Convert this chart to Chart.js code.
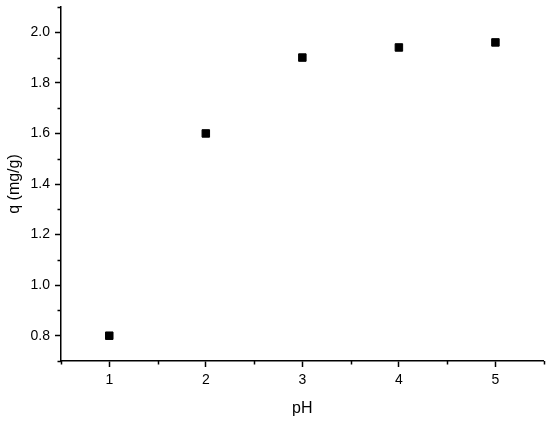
<!DOCTYPE html>
<html>
<head>
<meta charset="utf-8">
<script src="https://cdn.jsdelivr.net/npm/chart.js@4/dist/chart.umd.min.js"></script>
<style>
    html, body { margin: 0; padding: 0; background: #fff; }
    #wrap { width: 550px; height: 421px; }
</style>
</head>
<body>
<div id="wrap"><canvas id="chart-ph"></canvas></div>
<script>
// data
const phValues = [1, 2, 3, 4, 5]
const qValues = [0.80, 1.60, 1.90, 1.94, 1.96]

// axis ticks
const xMajorTicks = [1, 2, 3, 4, 5]
const xMinorTicks = [0.5, 1.5, 2.5, 3.5, 4.5, 5.5]
const yMajorTicks = [0.8, 1.0, 1.2, 1.4, 1.6, 1.8, 2.0]
const yMinorTicks = [0.7, 0.9, 1.1, 1.3, 1.5, 1.7, 1.9, 2.1]

const FONT = "'Liberation Sans', Arial, sans-serif"

// small outward ticks between the labelled ones
const minorTicks = {
    id: "minorTicks",
    afterDraw(chart) {
        const ctx = chart.ctx
        const x = chart.scales.x
        const y = chart.scales.y
        ctx.save()
        ctx.strokeStyle = "#000"
        ctx.lineWidth = 1.5
        ctx.beginPath()
        xMinorTicks.forEach((v) => {
            const px = Math.round(x.getPixelForValue(v)) + 0.5
            ctx.moveTo(px, x.top)
            ctx.lineTo(px, x.top + 3.5)
        })
        yMinorTicks.forEach((v) => {
            const py = Math.round(y.getPixelForValue(v)) + 0.5
            ctx.moveTo(y.right, py)
            ctx.lineTo(y.right - 3.5, py)
        })
        ctx.stroke()
        ctx.restore()
    }
}

new Chart(document.getElementById("chart-ph"), {
    type: "scatter",
    data: {
        datasets: [{
            label: "q",
            data: phValues.map((ph, i) => ({ x: ph, y: qValues[i] })),
            pointStyle: "rect",
            pointRadius: 5.3,
            pointHoverRadius: 5.3,
            pointBackgroundColor: "#000",
            pointBorderColor: "#000",
            pointBorderWidth: 1
        }]
    },
    options: {
        responsive: true,
        maintainAspectRatio: false,
        animation: false,
        layout: {
            padding: { left: 0, right: 6, top: 7, bottom: 0 }
        },
        plugins: {
            legend: { display: false },
            tooltip: { enabled: false }
        },
        scales: {
            x: {
                type: "linear",
                min: 0.5,
                max: 5.5,
                afterBuildTicks: (scale) => {
                    scale.ticks = xMajorTicks.map((v) => ({ value: v }))
                },
                afterFit: (scale) => {
                    scale.height = 60
                    scale.paddingLeft = 0
                    scale.paddingRight = 0
                },
                border: { display: true, color: "#000", width: 1.5 },
                grid: {
                    drawOnChartArea: false,
                    drawTicks: true,
                    tickLength: 6,
                    tickColor: "#000",
                    tickWidth: 1.5
                },
                ticks: {
                    color: "#000",
                    padding: 5,
                    font: { family: FONT, size: 14 },
                    callback: (v) => String(v)
                },
                title: {
                    display: true,
                    text: "pH",
                    color: "#000",
                    padding: { top: 0, bottom: 3 },
                    font: { family: FONT, size: 16 }
                }
            },
            y: {
                type: "linear",
                min: 0.7,
                max: 2.1,
                afterBuildTicks: (scale) => {
                    scale.ticks = yMajorTicks.map((v) => ({ value: v }))
                },
                afterFit: (scale) => {
                    scale.width = 61
                    scale.paddingTop = 0
                    scale.paddingBottom = 0
                },
                border: { display: true, color: "#000", width: 1.5 },
                grid: {
                    drawOnChartArea: false,
                    drawTicks: true,
                    tickLength: 6,
                    tickColor: "#000",
                    tickWidth: 1.5
                },
                ticks: {
                    color: "#000",
                    padding: 5,
                    font: { family: FONT, size: 14 },
                    callback: (v) => v.toFixed(1)
                },
                title: {
                    display: true,
                    text: "q (mg/g)",
                    color: "#000",
                    padding: { top: 5, bottom: 0 },
                    font: { family: FONT, size: 16 }
                }
            }
        }
    },
    plugins: [minorTicks]
})
</script>
</body>
</html>
